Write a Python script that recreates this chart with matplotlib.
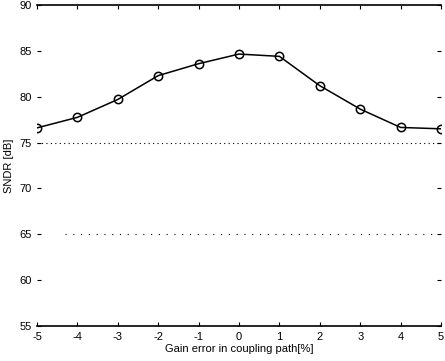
import matplotlib.pyplot as plt

gain_error = [-5, -4, -3, -2, -1, 0, 1, 2, 3, 4, 5]
sndr = [76.6, 77.75, 79.7, 82.3, 83.6, 84.65, 84.4, 81.2, 78.65, 76.65, 76.5]

x_ticks = list(range(-5, 6))
y_ticks = [55, 60, 65, 70, 75, 80, 85, 90]

plt.rcParams['font.family'] = ['Liberation Sans', 'DejaVu Sans']
plt.rcParams['axes.unicode_minus'] = False

fig = plt.figure(figsize=(4.45, 3.61), dpi=100)
ax = fig.add_axes([37 / 445, 1 - 326 / 361, 404 / 445, 321 / 361])

ax.plot(gain_error, sndr, color='black', linewidth=1.1, marker='o',
        markersize=6, markerfacecolor='none', markeredgecolor='black',
        markeredgewidth=1.1)

# dotted remnants of the grid
ax.axhline(75, color='black', linestyle=(0, (1, 3)), linewidth=0.8)
ax.axhline(65, color='black', linestyle=(0, (1, 6)), linewidth=0.8,
           xmin=0.07, xmax=0.98)

ax.set_xlim(-5, 5)
ax.set_ylim(55, 90)
ax.set_xticks(x_ticks)
ax.set_yticks(y_ticks)
ax.tick_params(direction='in', length=3, width=0.8, labelsize=8,
               top=True, right=True, pad=4)

ax.spines['left'].set_visible(False)
ax.spines['right'].set_visible(False)
ax.spines['top'].set_linewidth(1.2)
ax.spines['bottom'].set_linewidth(1.2)

ax.set_xlabel('Gain error in coupling path[%]', fontsize=8, labelpad=2)
ax.set_ylabel('SNDR [dB]', fontsize=8, labelpad=4)

fig.savefig('out.png', dpi=100)
